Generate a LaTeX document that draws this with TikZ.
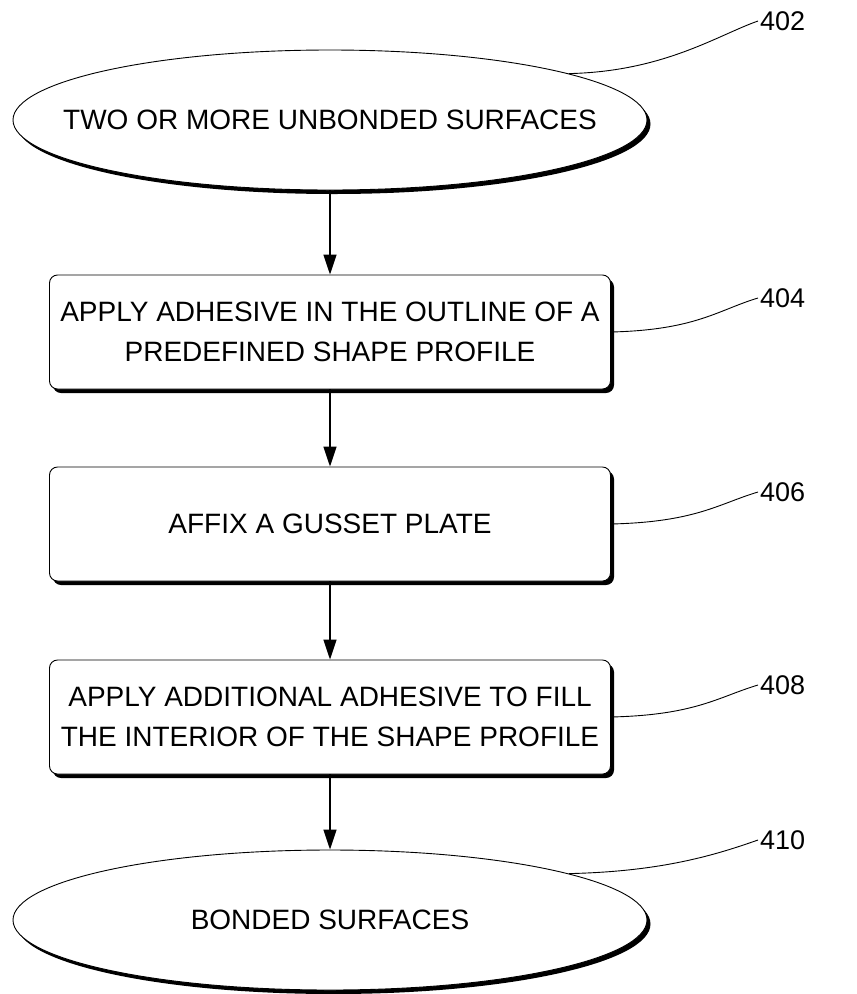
\documentclass[tikz,border=0pt]{standalone}
\usepackage{fontspec}
\setmainfont{Liberation Sans}
\usetikzlibrary{shapes.geometric,arrows.meta,shadows}
\begin{document}
\begin{tikzpicture}[x=1pt,y=-1pt,
  every node/.style={font=\fontsize{28}{40}\selectfont},
  shad/.style={drop shadow={shadow xshift=3.5pt,shadow yshift=-4pt,fill=black,opacity=1}},
  oval/.style={ellipse,draw,line width=0.9pt,fill=white,shad,minimum width=634pt,minimum height=140pt,inner sep=0pt},
  stepbox/.style={rectangle,rounded corners=8pt,draw,line width=0.9pt,fill=white,shad,minimum width=561pt,minimum height=114pt,align=center,inner sep=0pt},
  arr/.style={line width=1.6pt,-{Triangle[length=20pt,width=13pt]}},
  lead/.style={line width=0.9pt},
  reflab/.style={anchor=west,inner sep=2pt,font=\fontsize{27}{32}\selectfont}]
\useasboundingbox (0,0) rectangle (857,994);
\node[oval] (e1) at (330,120) {};
\node (t1) at (e1.center) {TWO OR MORE UNBONDED SURFACES};
\node[stepbox] (b1) at (330,332) {APPLY ADHESIVE IN THE OUTLINE OF A\\PREDEFINED SHAPE PROFILE};
\node[stepbox] (b2) at (330,524) {AFFIX A GUSSET PLATE};
\node[stepbox] (b3) at (330,717) {APPLY ADDITIONAL ADHESIVE TO FILL\\THE INTERIOR OF THE SHAPE PROFILE};
\node[oval] (e2) at (330,920) {};
\node (t2) at (e2.center) {BONDED SURFACES};
\draw[arr] (e1.south) -- (b1.north);
\draw[arr] (b1.south) -- (b2.north);
\draw[arr] (b2.south) -- (b3.north);
\draw[arr] (b3.south) -- (e2.north);
\node[reflab] (l402) at (758,21) {402};
\node[reflab] (l404) at (758,298) {404};
\node[reflab] (l406) at (758,492) {406};
\node[reflab] (l408) at (758,685) {408};
\node[reflab] (l410) at (758,840) {410};
\draw[lead] (e1.11) .. controls +(95,-2) and +(-40,14) .. (l402.west);
\draw[lead] (b1.east) .. controls +(85,-2) and +(-40,12) .. (l404.west);
\draw[lead] (b2.east) .. controls +(85,-2) and +(-40,12) .. (l406.west);
\draw[lead] (b3.east) .. controls +(85,-2) and +(-40,12) .. (l408.west);
\draw[lead] (e2.11) .. controls +(95,-2) and +(-40,14) .. (l410.west);
\end{tikzpicture}
\end{document}
